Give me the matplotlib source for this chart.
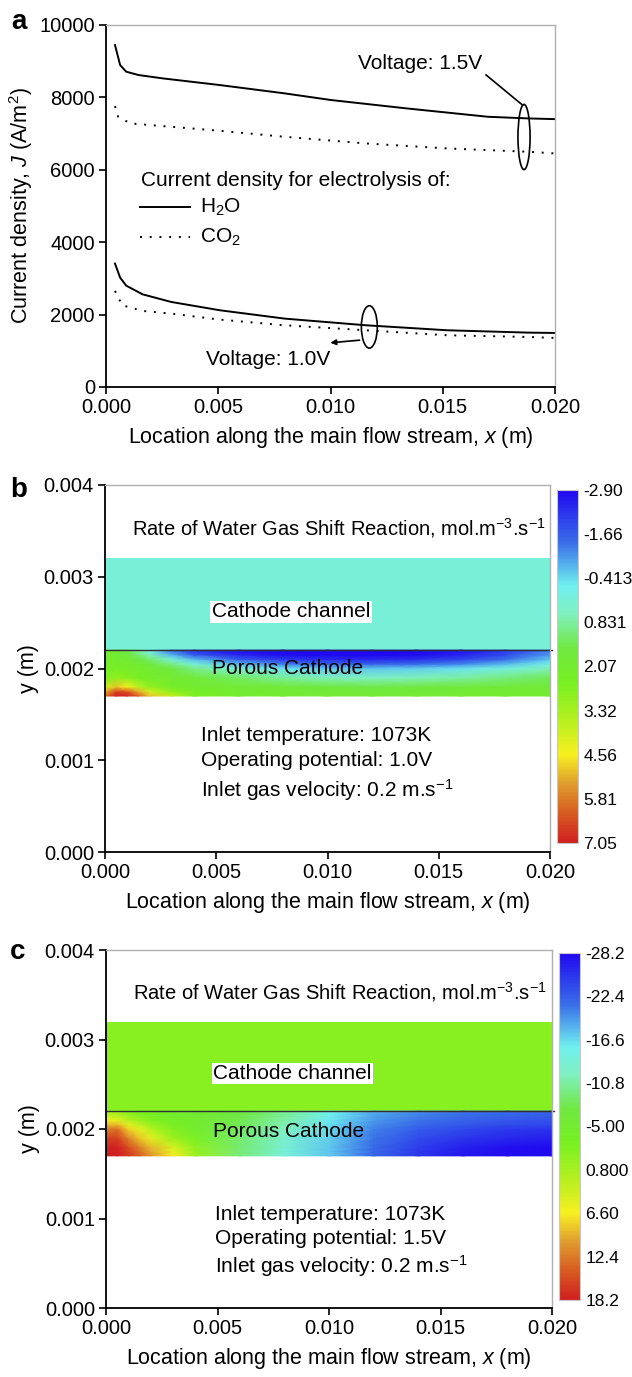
import matplotlib
matplotlib.use("Agg")
import matplotlib.pyplot as plt
import numpy as np
from matplotlib.colors import LinearSegmentedColormap, Normalize
from matplotlib.patches import Ellipse

plt.rcParams['font.family'] = ['Liberation Sans', 'DejaVu Sans']
plt.rcParams['mathtext.fontset'] = 'custom'
plt.rcParams['mathtext.rm'] = 'Liberation Sans'
plt.rcParams['mathtext.it'] = 'Liberation Sans:italic'
FS = 15       # text size
TS = 14.5     # tick label size

# ---- panel a data ----
x_h2o_15 = [0.0004, 0.00063, 0.0009, 0.00145, 0.00253, 0.00507, 0.00796, 0.01004, 0.01339, 0.01701, 0.01882, 0.020]
j_h2o_15 = [9447, 8894, 8710, 8618, 8525, 8341, 8111, 7926, 7696, 7465, 7419, 7400]
x_co2_15 = [0.0004, 0.00054, 0.00109, 0.00253, 0.00507, 0.00796, 0.01158, 0.0152, 0.01882, 0.020]
j_co2_15 = [7760, 7465, 7281, 7207, 7078, 6912, 6728, 6590, 6498, 6452]
x_h2o_10 = [0.0004, 0.00063, 0.0009, 0.00163, 0.0029, 0.00507, 0.00796, 0.01158, 0.0152, 0.01882, 0.020]
j_h2o_10 = [3410, 3020, 2800, 2560, 2350, 2120, 1889, 1705, 1567, 1502, 1493]
x_co2_10 = [0.0004, 0.00072, 0.00163, 0.0029, 0.00507, 0.00796, 0.01158, 0.0152, 0.01882, 0.020]
j_co2_10 = [2654, 2258, 2101, 2028, 1862, 1705, 1567, 1429, 1382, 1355]

# ---- panels b and c: sampled reaction rate in the porous cathode ----
grid_x = [0, 0.0005, 0.001, 0.0015, 0.002, 0.003, 0.004, 0.006, 0.008, 0.010, 0.012, 0.014, 0.016, 0.018, 0.020]
grid_y = [0.0017, 0.00175, 0.0018, 0.0019, 0.0020, 0.00205, 0.0021, 0.00215, 0.0022]

rate_b = [
    [6.0, 7.0, 7.0, 6.2, 5.0, 3.8, 2.6, 2.1, 2.0, 2.0, 1.9, 1.9, 2.0, 2.0, 2.1],
    [5.2, 6.5, 6.3, 5.2, 4.0, 2.9, 2.3, 2.0, 1.9, 1.8, 1.7, 1.8, 1.9, 1.9, 2.0],
    [4.0, 5.0, 4.6, 3.6, 3.0, 2.3, 2.1, 1.9, 1.8, 1.6, 1.5, 1.6, 1.7, 1.8, 1.9],
    [2.6, 3.0, 2.8, 2.4, 2.2, 2.0, 1.8, 1.3, 0.9, 0.6, 0.5, 0.6, 0.8, 1.1, 1.4],
    [2.3, 2.4, 2.3, 2.2, 2.0, 1.6, 1.0, 0.2, -0.3, -0.6, -0.6, -0.5, -0.3, 0.1, 0.6],
    [2.2, 2.2, 2.1, 1.9, 1.7, 1.0, 0.2, -0.7, -1.3, -1.6, -1.6, -1.5, -1.2, -0.7, 0.0],
    [2.1, 2.1, 1.9, 1.6, 1.2, 0.2, -0.7, -1.7, -2.2, -2.4, -2.4, -2.3, -2.0, -1.4, -0.6],
    [2.0, 2.0, 1.7, 1.2, 0.6, -0.8, -1.7, -2.5, -2.8, -2.9, -2.9, -2.8, -2.5, -1.9, -1.0],
    [2.0, 1.9, 1.5, 0.8, 0.0, -1.5, -2.3, -2.8, -2.9, -2.9, -2.9, -2.9, -2.7, -2.2, -1.3],
]
rate_c = [
    [18.2, 18.2, 16.5, 14, 11, 6.6, 0, -9.5, -14, -17.5, -22, -25, -27.2, -28, -28.2],
    [18.1, 18.1, 16, 13, 10, 5.5, -0.5, -9.2, -13.8, -17.5, -21.8, -24.8, -26.9, -27.8, -28.1],
    [18, 18, 15, 12, 9, 4, -1, -9, -13.5, -17.5, -21.5, -24.5, -26.5, -27.5, -28],
    [16, 16, 12, 8.5, 5, 0, -3, -9, -13, -17, -21, -23.5, -25, -26, -26.5],
    [12, 13, 8, 5, 2, -2, -4.5, -8.5, -12, -16.5, -20.5, -22.5, -23.8, -24.8, -25.2],
    [9, 9, 5, 2.5, 0, -3, -5, -8, -11.5, -16.3, -20, -21.5, -22.8, -23.6, -24],
    [6, 5, 2, 0, -2, -4, -5, -8, -11, -16, -19.5, -21, -22, -22.8, -23.3],
    [3, 2, 0, -1.5, -3, -4.5, -5.5, -7.5, -10.5, -15.5, -19, -20.5, -21.5, -22, -22.5],
    [1, 0, -2, -3, -4, -5, -5.5, -7, -10, -15, -18.5, -20, -21, -21.5, -22],
]
channel_b = 0.2
channel_c = -1.5

ticks_b = ['-2.90', '-1.66', '-0.413', '0.831', '2.07', '3.32', '4.56', '5.81', '7.05']
ticks_c = ['-28.2', '-22.4', '-16.6', '-10.8', '-5.00', '0.800', '6.60', '12.4', '18.2']

cmap = LinearSegmentedColormap.from_list('rb', [
    (0.0, '#2008f0'), (0.15, '#3a70e8'), (0.27, '#70f0f0'), (0.35, '#80f0c0'),
    (0.45, '#70e840'), (0.55, '#78f020'), (0.68, '#c8f020'), (0.75, '#f8f020'),
    (0.83, '#e0a030'), (0.91, '#d86020'), (1.0, '#d02020')])

W, H = 632, 1377
fig = plt.figure(figsize=(W / 100, H / 100), dpi=100)


def ax_box(l, r, t, b):
    return [l / W, 1 - b / H, (r - l) / W, (b - t) / H]


def style(ax):
    for s in ['top', 'right']:
        ax.spines[s].set_color('#b0b0b0')
        ax.spines[s].set_linewidth(1.0)
    for s in ['left', 'bottom']:
        ax.spines[s].set_linewidth(1.3)
    ax.tick_params(direction='out', length=5, width=1.2, labelsize=TS, pad=3)
    ax.xaxis.set_ticks_position('bottom')
    ax.yaxis.set_ticks_position('left')


# ---------------- panel a ----------------
ax = fig.add_axes(ax_box(106, 555, 25, 387))
ax.plot(x_h2o_15, j_h2o_15, color='black', lw=1.4)
ax.plot(x_co2_15, j_co2_15, color='black', lw=1.4, ls=(0, (1, 4)))
ax.plot(x_h2o_10, j_h2o_10, color='black', lw=1.4)
ax.plot(x_co2_10, j_co2_10, color='black', lw=1.4, ls=(0, (1, 4)))
ax.set_xlim(0, 0.020)
ax.set_ylim(0, 10000)
ax.set_xticks([0, 0.005, 0.010, 0.015, 0.020])
ax.set_xticklabels(['0.000', '0.005', '0.010', '0.015', '0.020'])
ax.set_yticks([0, 2000, 4000, 6000, 8000, 10000])
ax.set_xlabel(r'Location along the main flow stream, $x$ (m)', fontsize=FS + 0.5, labelpad=6)
ax.set_ylabel(r'Current density, $J$ (A/m$^2$)', fontsize=FS + 0.5, labelpad=3)
style(ax)

ax.text(0.00156, 5718, 'Current density for electrolysis of:', fontsize=FS, va='center')
ax.plot([0.0015, 0.00375], [4970, 4970], color='black', lw=1.4)
ax.text(0.0042, 4970, r'H$_2$O', fontsize=FS, va='center')
ax.plot([0.0015, 0.00375], [4140, 4140], color='black', lw=1.4, ls=(0, (1, 4)))
ax.text(0.0042, 4140, r'CO$_2$', fontsize=FS, va='center')

ax.text(0.01124, 8950, 'Voltage: 1.5V', fontsize=FS, va='center')
ax.add_patch(Ellipse((0.01862, 6906), 0.00054, 1800, fill=False, color='black', lw=1.2))
ax.plot([0.01693, 0.01853], [8620, 7800], color='black', lw=1.2)
ax.text(0.00445, 746, 'Voltage: 1.0V', fontsize=FS, va='center')
ax.add_patch(Ellipse((0.01173, 1660), 0.00071, 1170, fill=False, color='black', lw=1.2))
ax.annotate('', xy=(0.00987, 1215), xytext=(0.01142, 1300),
            arrowprops=dict(arrowstyle='-|>', color='black', lw=1.2, mutation_scale=8))
fig.text(11 / W, 1 - 22 / H, 'a', fontsize=20, fontweight='bold', va='center')


# ---------------- panels b and c ----------------
def field_panel(box, cbox, rate, chan, ticks, volt, title_y, chan_y, por_y, inlet_x, inlet_y, letter, letter_y):
    ax = fig.add_axes(box)
    vals = [float(t) for t in ticks]
    norm = Normalize(vmin=vals[0], vmax=vals[-1])
    ax.fill_between([0, 0.020], 0.0022, 0.0032, color=cmap(norm(chan)), lw=0)
    m = ax.pcolormesh(np.array(grid_x), np.array(grid_y), np.array(rate), cmap=cmap, norm=norm, shading='gouraud')
    ax.plot([0, 0.0201], [0.0022, 0.0022], color='#303030', lw=1.0, clip_on=False)
    ax.set_xlim(0, 0.020)
    ax.set_ylim(0, 0.004)
    ax.set_xticks([0, 0.005, 0.010, 0.015, 0.020])
    ax.set_xticklabels(['0.000', '0.005', '0.010', '0.015', '0.020'])
    ax.set_yticks([0, 0.001, 0.002, 0.003, 0.004])
    ax.set_yticklabels(['0.000', '0.001', '0.002', '0.003', '0.004'])
    ax.set_xlabel(r'Location along the main flow stream, $x$ (m)', fontsize=FS + 0.5, labelpad=6)
    ax.set_ylabel('y (m)', fontsize=FS + 0.5, labelpad=3)
    style(ax)
    ax.text(0.0012, title_y, r'Rate of Water Gas Shift Reaction, mol.m$^{-3}$.s$^{-1}$', fontsize=FS - 0.5, va='center')
    ax.text(0.0048, chan_y, 'Cathode channel', fontsize=FS, va='center',
            bbox=dict(facecolor='white', edgecolor='none', pad=1))
    ax.text(0.0048, por_y, 'Porous Cathode', fontsize=FS, va='center')
    lines = ['Inlet temperature: 1073K', 'Operating potential: ' + volt, r'Inlet gas velocity: 0.2 m.s$^{-1}$']
    for s, yy in zip(lines, inlet_y):
        ax.text(inlet_x, yy, s, fontsize=FS, va='center')

    cax = fig.add_axes(cbox)
    cb = fig.colorbar(m, cax=cax)
    cb.outline.set_edgecolor('#c8c8c8')
    cb.outline.set_linewidth(0.8)
    cax.set_ylim(vals[-1], vals[0])
    cb.set_ticks(vals)
    cb.set_ticklabels(ticks)
    cax.tick_params(length=0, labelsize=12.5, pad=4)
    fig.text(10 / W, 1 - letter_y / H, letter, fontsize=20, fontweight='bold', va='center')


field_panel(ax_box(105, 550, 485, 852), ax_box(557, 578, 490, 843), rate_b, channel_b, ticks_b, '1.0V',
            0.00353, 0.00262, 0.00200, 0.0043, [0.00127, 0.000995, 0.00068], 'b', 490)
field_panel(ax_box(106, 552, 950, 1308), ax_box(559, 580, 953, 1300), rate_c, channel_c, ticks_c, '1.5V',
            0.00353, 0.00262, 0.00197, 0.0049, [0.00105, 0.00078, 0.00047], 'c', 952)

fig.savefig('out.png', dpi=100)
